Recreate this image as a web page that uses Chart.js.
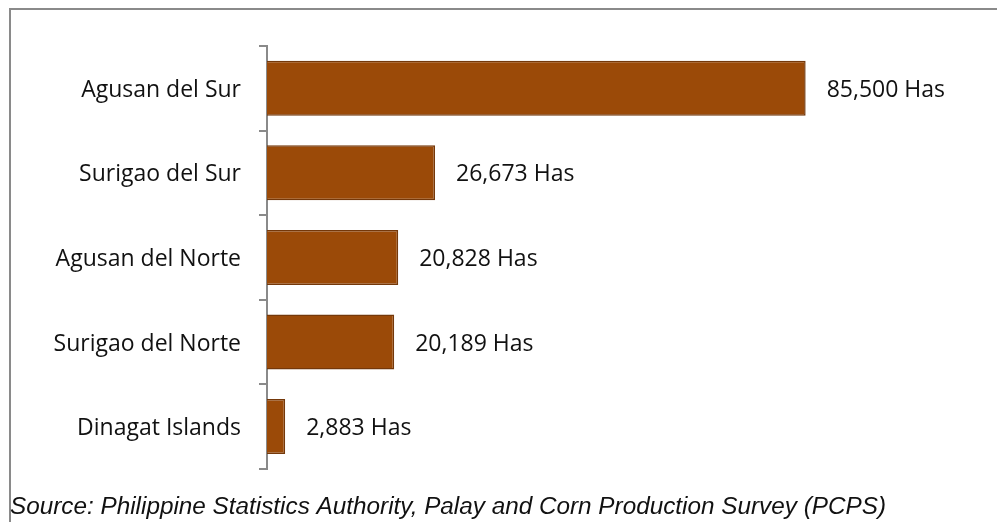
<!DOCTYPE html>
<html>
<head>
<meta charset="utf-8">
<script src="https://cdn.jsdelivr.net/npm/chart.js@4/dist/chart.umd.min.js"></script>
<style>
  html, body { margin: 0; padding: 0; background: #fff; }
  #wrap { position: relative; width: 997px; height: 522px; }
</style>
</head>
<body>
<div id="wrap"><canvas id="c" width="997" height="522"></canvas></div>
<script>
const categories = ["Agusan del Sur", "Surigao del Sur", "Agusan del Norte", "Surigao del Norte", "Dinagat Islands"];
const areaHas = [85500, 26673, 20828, 20189, 2883];
const valueLabels = ["85,500 Has", "26,673 Has", "20,828 Has", "20,189 Has", "2,883 Has"];
const sourceText = "Source: Philippine Statistics Authority, Palay and Corn Production Survey (PCPS)";

const labelFont = "'Open Sans', Lato, sans-serif";

const framePlugin = {
  id: 'frame',
  beforeDraw(chart) {
    const ctx = chart.ctx;
    ctx.save();
    ctx.fillStyle = '#fff';
    ctx.fillRect(0, 0, chart.width, chart.height);
    ctx.strokeStyle = '#8a8a8a';
    ctx.lineWidth = 2;
    ctx.beginPath();
    ctx.moveTo(10, chart.height + 2);
    ctx.lineTo(10, 9);
    ctx.lineTo(chart.width + 2, 9);
    ctx.stroke();
    ctx.restore();
  }
};

const valueLabelPlugin = {
  id: 'valueLabels',
  afterDatasetsDraw(chart) {
    const ctx = chart.ctx;
    const meta = chart.getDatasetMeta(0);
    ctx.save();
    ctx.font = "23px " + labelFont;
    ctx.fillStyle = '#111';
    ctx.textAlign = 'left';
    ctx.textBaseline = 'middle';
    meta.data.forEach((bar, i) => {
      ctx.fillText(valueLabels[i], bar.x + 21, bar.y + 2);
    });
    ctx.restore();
  }
};

new Chart(document.getElementById('c'), {
  type: 'bar',
  data: {
    labels: categories,
    datasets: [{
      data: areaHas,
      backgroundColor: '#9B4A08',
      borderColor: '#74380a',
      borderWidth: 1.5,
      borderSkipped: 'left',
      categoryPercentage: 1,
      barPercentage: 0.65
    }]
  },
  options: {
    indexAxis: 'y',
    responsive: false,
    animation: false,
    devicePixelRatio: 1,
    layout: { padding: { left: 10, top: 46, right: 100, bottom: 0 } },
    plugins: {
      legend: { display: false },
      tooltip: { enabled: false },
      title: {
        display: true,
        text: sourceText,
        position: 'bottom',
        align: 'start',
        color: '#111',
        font: { family: "'Liberation Sans', Arial, sans-serif", size: 24.3, style: 'italic', weight: 'normal', lineHeight: 1.2 },
        padding: { top: 24, bottom: 0 }
      }
    },
    scales: {
      x: {
        display: false,
        min: 0,
        max: 100000
      },
      y: {
        afterFit(scale) { scale.width = 257; },
        border: { display: true, color: '#8a8a8a', width: 2 },
        grid: { display: true, drawOnChartArea: false, drawTicks: true, tickLength: 8, color: '#8a8a8a', lineWidth: 2, offset: true },
        ticks: {
          color: '#111',
          padding: 18,
          labelOffset: 2,
          font: { family: labelFont, size: 23 }
        }
      }
    }
  },
  plugins: [framePlugin, valueLabelPlugin]
});
</script>
</body>
</html>
